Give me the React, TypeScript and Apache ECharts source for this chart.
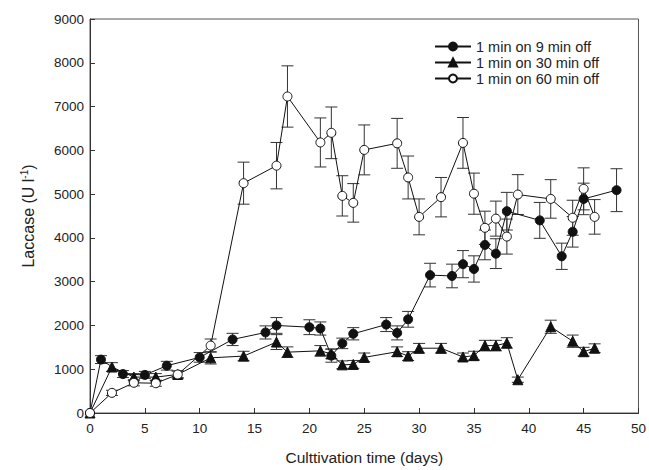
import React, { useEffect, useRef } from "react";
import * as echarts from "echarts";

const seriesNames = ["1 min on 9 min off", "1 min on 30 min off", "1 min on 60 min off"];

const x9 = [0, 1, 3, 5, 7, 10, 13, 16, 17, 20, 21, 22, 23, 24, 27, 28, 29, 31, 33, 34, 35, 36, 37, 38, 41, 43, 44, 45, 48];
const y9 = [0, 1220, 890, 870, 1080, 1270, 1680, 1840, 2000, 1960, 1930, 1310, 1590, 1810, 2020, 1830, 2140, 3150, 3130, 3400, 3290, 3840, 3640, 4610, 4400, 3580, 4140, 4890, 5090];
const e9 = [0, 90, 80, 80, 100, 110, 140, 150, 180, 170, 150, 150, 120, 140, 160, 160, 180, 270, 270, 310, 300, 340, 340, 430, 410, 300, 350, 360, 490];

const x30 = [0, 2, 4, 6, 8, 11, 14, 17, 18, 21, 22, 23, 24, 25, 28, 29, 30, 32, 34, 35, 36, 37, 38, 39, 42, 44, 45, 46];
const y30 = [0, 1050, 820, 820, 880, 1260, 1300, 1620, 1390, 1420, 1350, 1100, 1110, 1270, 1400, 1300, 1480, 1480, 1280, 1310, 1540, 1540, 1600, 760, 1970, 1640, 1400, 1480];
const e30 = [0, 100, 80, 80, 80, 140, 110, 170, 120, 120, 110, 90, 90, 100, 110, 100, 110, 110, 90, 100, 120, 120, 120, 60, 150, 140, 100, 100];

const x60 = [0, 2, 4, 6, 8, 11, 14, 17, 18, 21, 22, 23, 24, 25, 28, 29, 30, 32, 34, 35, 36, 37, 38, 39, 42, 44, 45, 46];
const y60 = [0, 460, 690, 680, 880, 1540, 5250, 5650, 7230, 6180, 6400, 4960, 4800, 6010, 6160, 5380, 4480, 4930, 6170, 5010, 4230, 4440, 4030, 4990, 4890, 4460, 5120, 4480];
const e60 = [0, 60, 70, 70, 80, 150, 480, 530, 700, 560, 590, 460, 440, 570, 570, 490, 410, 450, 580, 470, 380, 400, 400, 455, 440, 400, 480, 395];

const xTicks = { min: 0, max: 50, interval: 5 };
const yTicks = { min: 0, max: 9000, interval: 1000 };

const FONT = "'Liberation Sans', Arial, sans-serif";
const INK = "#222";

function pts(xs: number[], ys: number[]) {
  return xs.map((x, i) => [x, ys[i]]);
}
function errs(xs: number[], ys: number[], es: number[]) {
  return xs.map((x, i) => [x, ys[i], es[i]]).filter((d) => d[2] > 0);
}

const errRender = (params: any, api: any) => {
  const x = api.value(0);
  const y = api.value(1);
  const e = api.value(2);
  const top = api.coord([x, y + e]);
  const bot = api.coord([x, y - e]);
  const hw = 6;
  const st = { stroke: "#333", lineWidth: 1 };
  return {
    type: "group",
    children: [
      { type: "line", shape: { x1: top[0], y1: top[1], x2: bot[0], y2: bot[1] }, style: st },
      { type: "line", shape: { x1: top[0] - hw, y1: top[1], x2: top[0] + hw, y2: top[1] }, style: st },
      { type: "line", shape: { x1: bot[0] - hw, y1: bot[1], x2: bot[0] + hw, y2: bot[1] }, style: st },
    ],
  };
};

export default function App() {
  const ref = useRef<HTMLDivElement>(null);
  useEffect(() => {
    if (!ref.current) return;
    const chart = echarts.init(ref.current, undefined, { renderer: "svg" });
    const lineBase = {
      type: "line",
      lineStyle: { color: "#111", width: 1 },
      z: 3,
    };
    chart.setOption({
      animation: false,
      backgroundColor: "#fff",
      grid: {
        left: 90,
        right: 8,
        top: 19,
        bottom: 56,
        show: true,
        borderColor: "#555",
        borderWidth: 1,
      },
      legend: {
        orient: "vertical",
        left: 434,
        top: 39,
        padding: 0,
        itemWidth: 36,
        itemHeight: 10,
        itemGap: 1,
        data: seriesNames,
        textStyle: { fontFamily: FONT, fontSize: 14.5, color: INK },
      },
      xAxis: {
        type: "value",
        min: xTicks.min,
        max: xTicks.max,
        interval: xTicks.interval,
        name: "Culttivation time (days)",
        nameLocation: "middle",
        nameGap: 36,
        nameTextStyle: { fontFamily: FONT, fontSize: 15.5, color: INK },
        axisLine: { show: true, lineStyle: { color: "#333" } },
        axisTick: { show: true, inside: true, length: 5, lineStyle: { color: "#333" } },
        axisLabel: { fontFamily: FONT, fontSize: 13.5, color: INK, margin: 8, formatter: (v: number) => String(v) },
        splitLine: { show: false },
      },
      yAxis: {
        type: "value",
        min: yTicks.min,
        max: yTicks.max,
        interval: yTicks.interval,
        name: "Laccase (U l{sup|-1})",
        nameLocation: "middle",
        nameGap: 53,
        nameTextStyle: {
          fontFamily: FONT,
          fontSize: 16,
          color: INK,
          rich: { sup: { fontFamily: FONT, fontSize: 10, color: INK, verticalAlign: "top", padding: [0, 0, 8, 0] } },
        },
        axisLine: { show: true, lineStyle: { color: "#333" } },
        axisTick: { show: true, inside: true, length: 5, lineStyle: { color: "#333" } },
        axisLabel: { fontFamily: FONT, fontSize: 13.5, color: INK, margin: 6, formatter: (v: number) => String(v) },
        splitLine: { show: false },
      },
      series: [
        { type: "custom", name: "err9", renderItem: errRender, data: errs(x9, y9, e9), encode: { x: 0, y: 1 }, z: 1, silent: true },
        { type: "custom", name: "err30", renderItem: errRender, data: errs(x30, y30, e30), encode: { x: 0, y: 1 }, z: 1, silent: true },
        { type: "custom", name: "err60", renderItem: errRender, data: errs(x60, y60, e60), encode: { x: 0, y: 1 }, z: 1, silent: true },
        {
          ...lineBase,
          name: seriesNames[0],
          data: pts(x9, y9),
          symbol: "circle",
          symbolSize: 9,
          showAllSymbol: true,
          itemStyle: { color: "#111", borderColor: "#111", borderWidth: 1 },
        },
        {
          ...lineBase,
          name: seriesNames[1],
          data: pts(x30, y30),
          symbol: "triangle",
          symbolSize: 10,
          showAllSymbol: true,
          itemStyle: { color: "#111", borderColor: "#111", borderWidth: 1 },
        },
        {
          ...lineBase,
          name: seriesNames[2],
          data: pts(x60, y60),
          symbol: "circle",
          symbolSize: 9,
          showAllSymbol: true,
          itemStyle: { color: "#fff", borderColor: "#111", borderWidth: 1 },
          z: 4,
        },
      ],
    });
    return () => chart.dispose();
  }, []);
  return <div ref={ref} style={{ width: 649, height: 470, position: "absolute", left: 0, top: 0 }} />;
}
